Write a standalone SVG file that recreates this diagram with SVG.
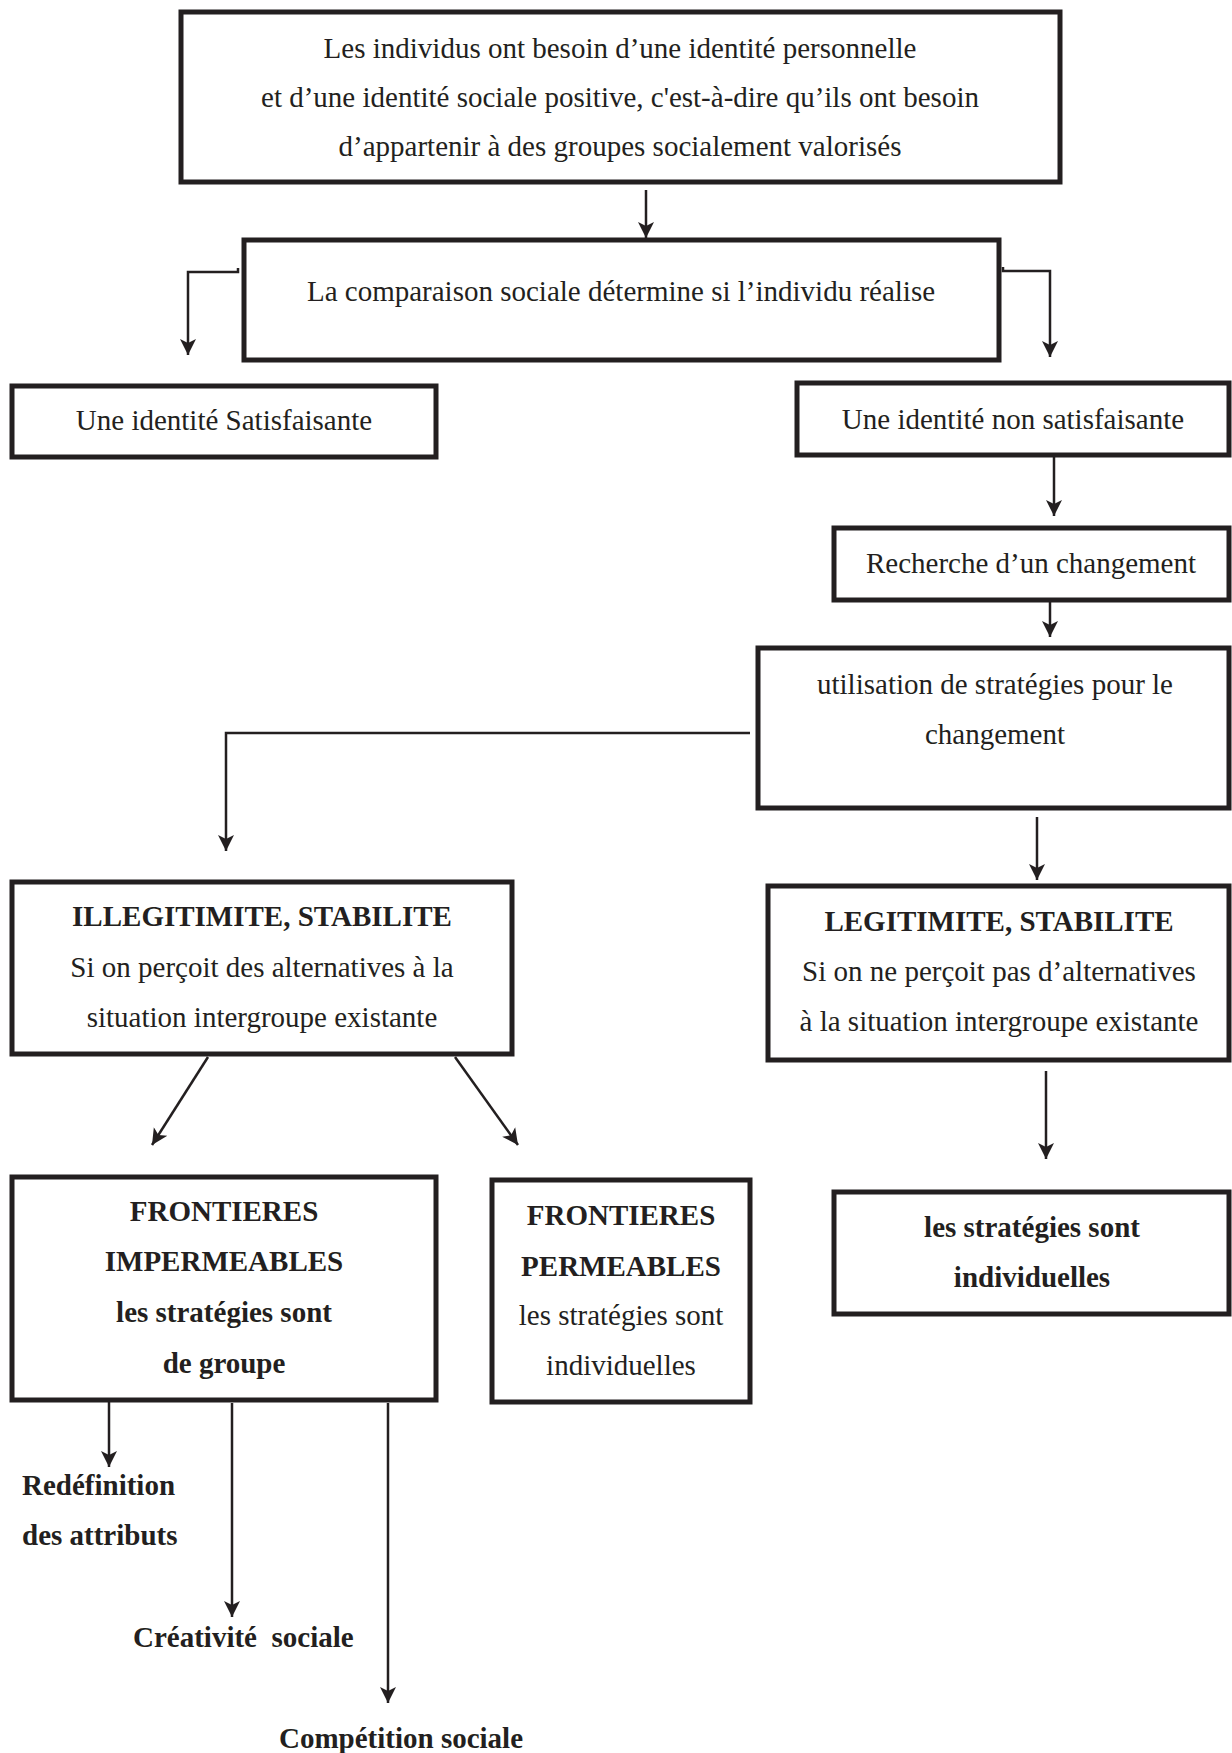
<svg xmlns="http://www.w3.org/2000/svg" width="1232" height="1753" viewBox="0 0 1232 1753">
<style>
.box{fill:#fff;stroke:#231f20;stroke-width:5}
.t{font-family:"Liberation Serif","Times New Roman",serif;font-size:29px;fill:#231f20;text-anchor:middle}
.b{font-weight:bold}
.l{text-anchor:start}
.c{fill:none;stroke:#231f20;stroke-width:2.5}
</style>
<defs>
<marker id="ah" markerUnits="userSpaceOnUse" markerWidth="18" markerHeight="18" refX="16" refY="8" orient="auto" viewBox="0 0 18 16">
<path d="M0,0 L16,8 L0,16 L4,8 z" fill="#231f20"/>
</marker>
</defs>
<rect width="1232" height="1753" fill="#fff"/>
<g id="connectors">
<path class="c" d="M646,190 V238" marker-end="url(#ah)"/>
<path class="c" d="M238,268 V272 H188 V355" marker-end="url(#ah)"/>
<path class="c" d="M1003,267 V271 H1050 V357" marker-end="url(#ah)"/>
<path class="c" d="M1054,457 V516" marker-end="url(#ah)"/>
<path class="c" d="M1050,600 V637" marker-end="url(#ah)"/>
<path class="c" d="M750,733 H226 V851" marker-end="url(#ah)"/>
<path class="c" d="M1037,817 V880" marker-end="url(#ah)"/>
<path class="c" d="M208,1057 L152,1145" marker-end="url(#ah)"/>
<path class="c" d="M455,1057 L518,1145" marker-end="url(#ah)"/>
<path class="c" d="M1046,1071 V1159" marker-end="url(#ah)"/>
<path class="c" d="M109,1395 V1467" marker-end="url(#ah)"/>
<path class="c" d="M232,1403 V1617" marker-end="url(#ah)"/>
<path class="c" d="M388,1403 V1703" marker-end="url(#ah)"/>
</g>
<g id="n1">
<rect class="box" x="181" y="12" width="879" height="170"/>
<text class="t" x="620" y="58">Les individus ont besoin d’une identité personnelle</text>
<text class="t" x="620" y="107">et d’une identité sociale positive, c'est-à-dire qu’ils ont besoin</text>
<text class="t" x="620" y="156">d’appartenir à des groupes socialement valorisés</text>
</g>
<g id="n2">
<rect class="box" x="244" y="240" width="755" height="120"/>
<text class="t" x="621" y="301">La comparaison sociale détermine si l’individu réalise</text>
</g>
<g id="n3">
<rect class="box" x="12" y="386" width="424" height="71"/>
<text class="t" x="224" y="430">Une identité Satisfaisante</text>
</g>
<g id="n4">
<rect class="box" x="797" y="383" width="432" height="72"/>
<text class="t" x="1013" y="429">Une identité non satisfaisante</text>
</g>
<g id="n5">
<rect class="box" x="834" y="528" width="395" height="72"/>
<text class="t" x="1031" y="573">Recherche d’un changement</text>
</g>
<g id="n6">
<rect class="box" x="758" y="648" width="471" height="160"/>
<text class="t" x="995" y="694">utilisation de stratégies pour le</text>
<text class="t" x="995" y="744">changement</text>
</g>
<g id="n7">
<rect class="box" x="12" y="882" width="500" height="172"/>
<text class="t b" x="262" y="926">ILLEGITIMITE, STABILITE</text>
<text class="t" x="262" y="977">Si on perçoit des alternatives à la</text>
<text class="t" x="262" y="1027">situation intergroupe existante</text>
</g>
<g id="n8">
<rect class="box" x="768" y="886" width="461" height="174"/>
<text class="t b" x="999" y="931">LEGITIMITE, STABILITE</text>
<text class="t" x="999" y="981">Si on ne perçoit pas d’alternatives</text>
<text class="t" x="999" y="1031">à la situation intergroupe existante</text>
</g>
<g id="n9">
<rect class="box" x="12" y="1177" width="424" height="223"/>
<text class="t b" x="224" y="1221">FRONTIERES</text>
<text class="t b" x="224" y="1271">IMPERMEABLES</text>
<text class="t b" x="224" y="1322">les stratégies sont</text>
<text class="t b" x="224" y="1373">de groupe</text>
</g>
<g id="n10">
<rect class="box" x="492" y="1180" width="258" height="222"/>
<text class="t b" x="621" y="1225">FRONTIERES</text>
<text class="t b" x="621" y="1276">PERMEABLES</text>
<text class="t" x="621" y="1325">les stratégies sont</text>
<text class="t" x="621" y="1375">individuelles</text>
</g>
<g id="n11">
<rect class="box" x="834" y="1192" width="395" height="122"/>
<text class="t b" x="1032" y="1237">les stratégies sont</text>
<text class="t b" x="1032" y="1287">individuelles</text>
</g>
<g id="n12">
<text class="t b l" x="22" y="1495">Redéfinition</text>
<text class="t b l" x="22" y="1545">des attributs</text>
</g>
<g id="n13">
<text class="t b l" x="133" y="1647" xml:space="preserve">Créativité  sociale</text>
</g>
<g id="n14">
<text class="t b l" x="279" y="1748">Compétition sociale</text>
</g>
</svg>
